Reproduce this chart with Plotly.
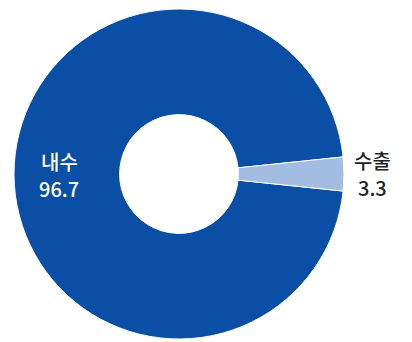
import plotly.graph_objects as go

# Share of sales by market (%)
categories = ["내수", "수출"]
shares = [96.7, 3.3]
slice_colors = ["#0a4ea6", "#a3bde2"]

W, H = 412, 342
FONT = "Noto Sans CJK KR"

# start the big slice so the small one is centred at 3 o'clock
rotation = 90 + shares[1] * 3.6 / 2

fig = go.Figure(
    go.Pie(
        labels=categories,
        values=shares,
        hole=0.36,
        sort=False,
        direction="clockwise",
        rotation=rotation,
        marker=dict(colors=slice_colors, line=dict(color="white", width=1)),
        textinfo="none",
        hoverinfo="label+value",
        domain=dict(x=[14 / W, 344 / W], y=[3 / H, 333 / H]),
        showlegend=False,
    )
)

# label positions (px from top-left) and text colours
label_pos = [(59, 161, 188, "white"), (372, 160, 187, "#222222")]
for name, val, (px, py_name, py_val, col) in zip(categories, shares, label_pos):
    for txt, py in ((name, py_name), (f"{val:.1f}", py_val)):
        fig.add_annotation(
            x=px / W, y=1 - py / H, xref="paper", yref="paper",
            text=txt, showarrow=False, xanchor="center", yanchor="middle",
            font=dict(family=FONT, size=20, color=col, weight=500),
        )

fig.update_layout(
    width=W, height=H,
    margin=dict(l=0, r=0, t=0, b=0),
    paper_bgcolor="white", plot_bgcolor="white",
)

fig.write_html("out.html")
